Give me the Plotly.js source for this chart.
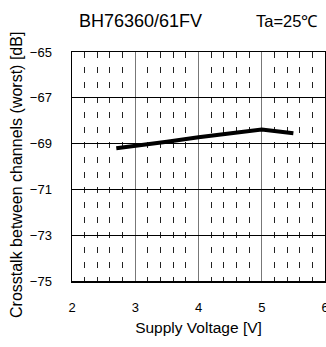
<!DOCTYPE html>
<html><head><meta charset="utf-8">
<script src="https://cdn.plot.ly/plotly-3.0.1.min.js"></script>
<style>html,body{margin:0;padding:0;background:#fff;overflow:hidden;}#chart{width:326px;height:347px;}</style>
</head><body><div id="chart"></div>
<script>
const voltage = [2.7, 3.0, 3.5, 4.0, 4.5, 5.0, 5.5];
const crosstalk = [-69.2, -69.1, -68.92, -68.72, -68.55, -68.38, -68.55];
const xTicks = [2, 3, 4, 5, 6];
const yTicks = [-75, -73, -71, -69, -67, -65];
const chartTitle = "BH76360/61FV";
const condition = "Ta=25℃";
const xLabel = "Supply Voltage [V]";
const yLabel = "Crosstalk between channels (worst) [dB]";

const font = "Liberation Sans, Arial, sans-serif";
const trace = {x: voltage, y: crosstalk, type: 'scatter', mode: 'lines',
  line: {color: '#000', width: 4}, hoverinfo: 'skip'};
const layout = {
  width: 326, height: 347,
  margin: {l: 72, r: 1, t: 52, b: 66},
  paper_bgcolor: '#fff', plot_bgcolor: '#fff',
  showlegend: false,
  font: {family: font, color: '#000', size: 12},
  xaxis: {range: [2, 6], tickvals: xTicks, ticktext: xTicks.map(String),
    showgrid: true, gridcolor: '#777', gridwidth: 1,
    minor: {dtick: 0.2, tick0: 2, showgrid: true, gridcolor: '#222', gridwidth: 1, griddash: '6px,9px'},
    showline: true, mirror: true, linecolor: '#000', linewidth: 1.5,
    zeroline: false, ticks: '', ticklabelstandoff: 14, ticklabeloverflow: 'allow',
    tickfont: {size: 13, family: font},
    title: {text: xLabel, font: {size: 15.5, family: font}, standoff: 8}},
  yaxis: {range: [-75, -65], tickvals: yTicks, ticktext: yTicks.map(v => '\u2212' + Math.abs(v)),
    showgrid: true, gridcolor: '#000', gridwidth: 1,
    showline: true, mirror: true, linecolor: '#000', linewidth: 1.5,
    zeroline: false, ticks: '', ticklabelstandoff: 16,
    tickfont: {size: 13, family: font}},
  annotations: [
    {text: chartTitle, xref: 'paper', yref: 'paper', x: (140-72)/253, y: 1 + (52-21)/229,
     xanchor: 'center', yanchor: 'middle', showarrow: false, font: {size: 18, family: font}},
    {text: condition, xref: 'paper', yref: 'paper', x: (287-72)/253, y: 1 + (52-21)/229,
     xanchor: 'center', yanchor: 'middle', showarrow: false, font: {size: 16.5, family: font}},
    {text: yLabel, xref: 'paper', yref: 'paper', x: (16-72)/253, y: (281-175)/229,
     xanchor: 'center', yanchor: 'middle', textangle: -90, showarrow: false,
     font: {size: 16, family: font}}
  ]
};
Plotly.newPlot('chart', [trace], layout, {staticPlot: true, displayModeBar: false});
</script></body></html>
